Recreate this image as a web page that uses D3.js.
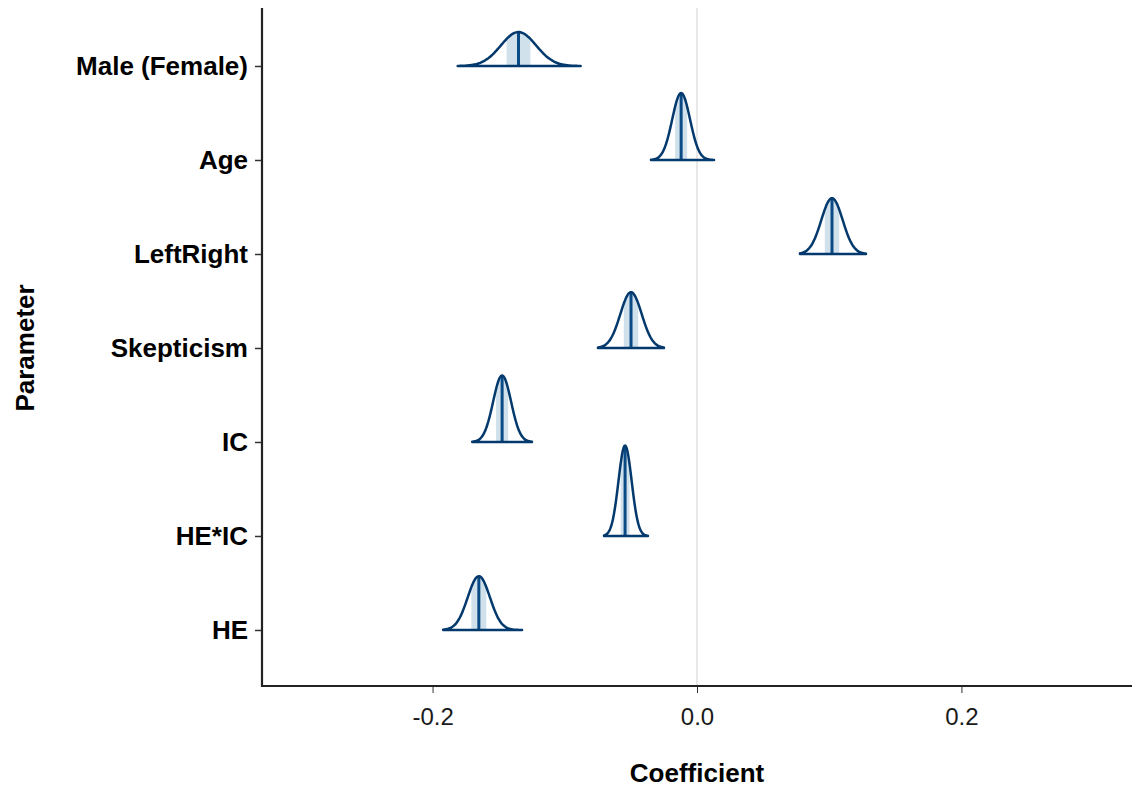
<!DOCTYPE html>
<html>
<head>
<meta charset="utf-8">
<script src="https://cdn.jsdelivr.net/npm/d3@7"></script>
<style>
  body { margin: 0; background: #fff; }
  text { font-family: "Liberation Sans", Arial, sans-serif; }
</style>
</head>
<body>
<div id="vis"></div>
<script>
// chart frame
const FRAME_WIDTH = 1134;
const FRAME_HEIGHT = 787;
const MARGINS = {left: 262, right: 2, top: 8, bottom: 101};

// posterior summaries (bottom to top)
const params  = ["HE", "HE*IC", "IC", "Skepticism", "LeftRight", "Age", "Male (Female)"];
const medians = [-0.165, -0.0544, -0.1474, -0.0499, 0.1021, -0.012, -0.135];
const sds     = [0.0084, 0.0050, 0.0068, 0.0081, 0.0081, 0.00675, 0.0133];
const lows    = [-0.192, -0.0703, -0.170, -0.0749, 0.0779, -0.0348, -0.181];
const highs   = [-0.1323, -0.0371, -0.1248, -0.025, 0.1278, 0.0129, -0.088];
const xTicks  = [-0.2, 0.0, 0.2];

const VIS_WIDTH = FRAME_WIDTH - MARGINS.left - MARGINS.right;
const VIS_HEIGHT = FRAME_HEIGHT - MARGINS.top - MARGINS.bottom;

const svg = d3.select("#vis")
  .append("svg")
    .attr("width", FRAME_WIDTH)
    .attr("height", FRAME_HEIGHT);

const X_SCALE = d3.scaleLinear()
  .domain([-0.329, 0.329])
  .range([MARGINS.left, MARGINS.left + VIS_WIDTH]);

// parameter index 1..7 on a continuous scale, with ggplot-like padding
const Y_SCALE = d3.scaleLinear()
  .domain([0.404, 7.617])
  .range([MARGINS.top + VIS_HEIGHT, MARGINS.top]);

// density -> pixel height, shared by all rows (equal area)
const DENS = d3.scaleLinear().domain([0, 1]).range([0, 1.133]);

const dnorm = (x, m, s) => Math.exp(-0.5 * ((x - m) / s) ** 2) / (s * Math.sqrt(2 * Math.PI));

// zero line
svg.append("line")
  .attr("x1", X_SCALE(0)).attr("x2", X_SCALE(0))
  .attr("y1", MARGINS.top).attr("y2", MARGINS.top + VIS_HEIGHT)
  .attr("stroke", "#d9d9d9").attr("stroke-width", 1.2);

const rows = params.map((p, i) => ({
  name: p, pos: i + 1, med: medians[i], sd: sds[i], lo: lows[i], hi: highs[i]
}));

rows.forEach(r => {
  const base = Y_SCALE(r.pos);
  const N = 120;
  const pts = d3.range(N + 1).map(k => {
    const x = r.lo + (r.hi - r.lo) * k / N;
    return [x, dnorm(x, r.med, r.sd)];
  });
  const area = d3.area()
    .x(d => X_SCALE(d[0]))
    .y0(base)
    .y1(d => base - DENS(d[1]))
    .curve(d3.curveBasis);

  // inner 50% interval
  const qlo = r.med - 0.6745 * r.sd, qhi = r.med + 0.6745 * r.sd;
  const inner = d3.range(41).map(k => {
    const x = qlo + (qhi - qlo) * k / 40;
    return [x, dnorm(x, r.med, r.sd)];
  });
  svg.append("path")
    .attr("d", area(inner))
    .attr("fill", "#d1e1ec");

  // median line
  svg.append("line")
    .attr("x1", X_SCALE(r.med)).attr("x2", X_SCALE(r.med))
    .attr("y1", base).attr("y2", base - DENS(dnorm(r.med, r.med, r.sd)))
    .attr("stroke", "#0a4a85").attr("stroke-width", 3);

  // outline
  svg.append("path")
    .attr("d", area(pts))
    .attr("fill", "none")
    .attr("stroke", "#03396c")
    .attr("stroke-width", 2.5)
    .attr("stroke-linejoin", "round");
});

// x axis
const xAxis = svg.append("g")
  .attr("transform", "translate(0," + (MARGINS.top + VIS_HEIGHT) + ")")
  .call(d3.axisBottom(X_SCALE).tickValues(xTicks)
    .tickFormat(d => d3.format(".1f")(d).replace("\u2212", "-"))
    .tickSizeOuter(0).tickSize(7).tickPadding(15));
xAxis.select(".domain").remove();
xAxis.selectAll(".tick line").attr("stroke", "#333").attr("stroke-width", 1);
xAxis.selectAll(".tick text").attr("font-size", "24px").attr("fill", "#1a1a1a")
  .attr("font-family", "Liberation Sans, Arial, sans-serif");

// y axis
const yAxis = svg.append("g")
  .attr("transform", "translate(" + MARGINS.left + ",0)")
  .call(d3.axisLeft(Y_SCALE).tickValues(rows.map(r => r.pos))
    .tickFormat(d => params[d - 1]).tickSizeOuter(0).tickSize(7).tickPadding(7));
yAxis.select(".domain").remove();
yAxis.selectAll(".tick line").attr("stroke", "#333").attr("stroke-width", 1.5);
yAxis.selectAll(".tick text").attr("font-size", "26px").attr("font-weight", "bold")
  .attr("fill", "#000").attr("font-family", "Liberation Sans, Arial, sans-serif");

// axis lines
svg.append("line")
  .attr("x1", MARGINS.left).attr("x2", MARGINS.left)
  .attr("y1", MARGINS.top).attr("y2", MARGINS.top + VIS_HEIGHT + 1)
  .attr("stroke", "#222").attr("stroke-width", 2.2);
svg.append("line")
  .attr("x1", MARGINS.left - 1).attr("x2", MARGINS.left + VIS_WIDTH)
  .attr("y1", MARGINS.top + VIS_HEIGHT).attr("y2", MARGINS.top + VIS_HEIGHT)
  .attr("stroke", "#222").attr("stroke-width", 2.2);

// axis titles
svg.append("text")
  .attr("x", X_SCALE(0)).attr("y", 782)
  .attr("text-anchor", "middle")
  .attr("font-size", "26px").attr("font-weight", "bold")
  .text("Coefficient");

svg.append("text")
  .attr("transform", "translate(34," + Y_SCALE(4) + ") rotate(-90)")
  .attr("text-anchor", "middle")
  .attr("font-size", "26px").attr("font-weight", "bold")
  .text("Parameter");
</script>
</body>
</html>
